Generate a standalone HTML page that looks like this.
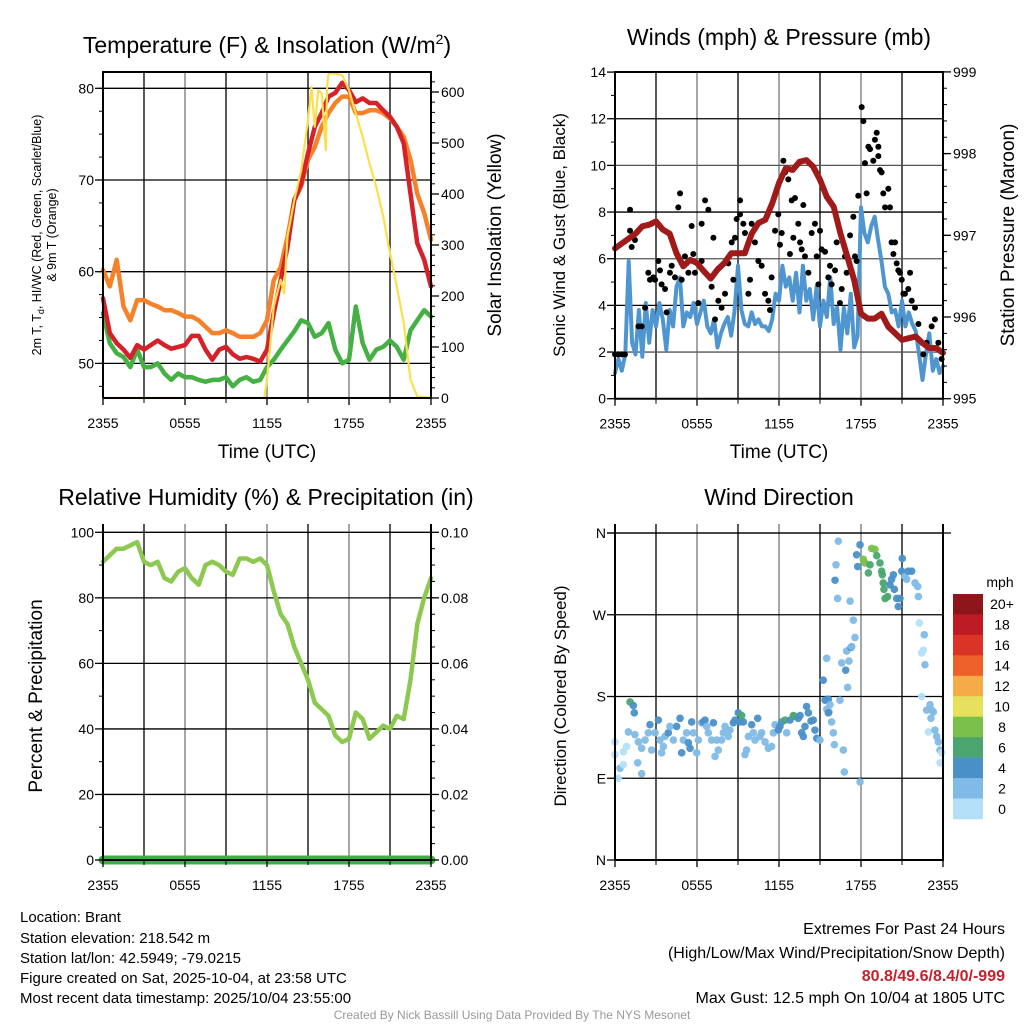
<!DOCTYPE html>
<html><head><meta charset="utf-8"><style>
body{margin:0;background:#fff}
svg{display:block;font-family:"Liberation Sans",sans-serif}
</style></head><body>
<svg id="s" width="1024" height="1024" viewBox="0 0 1024 1024" xmlns="http://www.w3.org/2000/svg">
<g id="grid"></g><g id="marks"></g><g id="axes"></g>
<text x="267" y="53" font-size="23" text-anchor="middle">Temperature (F) &amp; Insolation (W/m<tspan font-size="14" dy="-9">2</tspan><tspan dy="9">)</tspan></text>
<text x="779" y="45" font-size="23" text-anchor="middle">Winds (mph) &amp; Pressure (mb)</text>
<text x="266" y="505" font-size="23" text-anchor="middle">Relative Humidity (%) &amp; Precipitation (in)</text>
<text x="779" y="505" font-size="23" text-anchor="middle">Wind Direction</text>
<text x="267" y="458" font-size="19" text-anchor="middle">Time (UTC)</text>
<text x="779" y="458" font-size="19" text-anchor="middle">Time (UTC)</text>
<g transform="translate(41,235) rotate(-90)"><text x="0" y="0" font-size="12.5" text-anchor="middle">2m T, T<tspan font-size="9" dy="3">d</tspan><tspan dy="-3">, HI/WC (Red, Green, Scarlet/Blue)</tspan></text><text x="0" y="15" font-size="12.5" text-anchor="middle">&amp; 9m T (Orange)</text></g>
<text transform="translate(501,235) rotate(-90)" font-size="19" text-anchor="middle">Solar Insolation (Yellow)</text>
<text transform="translate(565,235) rotate(-90)" font-size="17" text-anchor="middle">Sonic Wind &amp; Gust (Blue, Black)</text>
<text transform="translate(1014,235) rotate(-90)" font-size="19" text-anchor="middle">Station Pressure (Maroon)</text>
<text transform="translate(42,696) rotate(-90)" font-size="19" text-anchor="middle">Percent &amp; Precipitation</text>
<text transform="translate(566,696) rotate(-90)" font-size="17" text-anchor="middle">Direction (Colored By Speed)</text>
<g font-size="15">
<text x="20" y="922">Location: Brant</text>
<text x="20" y="943">Station elevation: 218.542 m</text>
<text x="20" y="963">Station lat/lon: 42.5949; -79.0215</text>
<text x="20" y="983">Figure created on Sat, 2025-10-04, at 23:58 UTC</text>
<text x="20" y="1003">Most recent data timestamp: 2025/10/04 23:55:00</text>
</g>
<g font-size="16" text-anchor="end">
<text x="1005" y="934">Extremes For Past 24 Hours</text>
<text x="1005" y="958">(High/Low/Max Wind/Precipitation/Snow Depth)</text>
<text x="1005" y="981" fill="#c8202a" font-weight="bold">80.8/49.6/8.4/0/-999</text>
<text x="1005" y="1003">Max Gust: 12.5 mph On 10/04 at 1805 UTC</text>
</g>
<text x="512" y="1019" font-size="12" fill="#999" text-anchor="middle">Created By Nick Bassill Using Data Provided By The NYS Mesonet</text>
<text x="1000" y="587" font-size="14" text-anchor="middle">mph</text>
</svg>
<script>
const halfHours=[0,0.5,1,1.5,2,2.5,3,3.5,4,4.5,5,5.5,6,6.5,7,7.5,8,8.5,9,9.5,10,10.5,11,11.5,12,12.5,13,13.5,14,14.5,15,15.5,16,16.5,17,17.5,18,18.5,19,19.5,20,20.5,21,21.5,22,22.5,23,23.5,24];
const tempRed=[57.1,53.3,52.2,51.5,50.6,52,51.5,52,52.5,52,51.6,51.8,52,53,53,51.5,50.4,51.5,51.8,51,50.5,50.7,50.5,50.2,51.5,55.5,59.1,62.7,67.8,69.6,72.9,75.8,77.3,79.1,79.5,80.6,79.8,78.5,78.9,78.4,78.4,77.6,76.9,75.8,74,68.5,63.1,61.3,58.4];
const temp9m=[60.2,58.4,61.3,56.2,54.7,56.9,56.9,56.5,56.2,55.8,55.8,55.5,55.1,55.1,54.7,54,53.3,53.3,53.6,53.3,52.9,52.9,52.9,53.3,54.7,59.1,60.5,63.8,67.8,69.3,72.2,73.6,75.8,77.3,78.4,79.1,79.1,77.3,77.3,77.6,77.6,77.3,76.7,75.8,74.7,72.2,68.5,66.4,63.5];
const dewGreen=[55.5,52.2,51.1,50.7,49.6,51.5,49.6,49.6,50,48.9,48.2,48.9,48.5,48.5,48.2,48,48.2,48.2,48.5,47.5,48.2,48.5,48,48.2,49.6,50.4,51.5,52.5,53.5,54.7,54.4,52.9,53.3,54.4,51.5,50,50.4,56.2,52.2,50.4,51.5,51.8,52.5,51.8,50.4,53.6,54.7,55.8,55.1];
const solarHours=[0,11.8,12,12.5,13,13.25,13.5,14,14.5,15,15.25,15.5,15.75,16,16.3,16.4,16.5,17,17.5,18,18.5,19,19.5,20,20.5,21,21.5,22,22.5,23,24];
const solarValues=[0,0,36,180,232,205,317,388,447,545,610,532,604,597,486,610,636,636,633,604,558,512,460,414,356,284,219,147,36,3,0];
const pressure=[996.84,996.90,996.96,997.02,997.11,997.13,997.17,997.07,997.02,996.78,996.62,996.70,996.66,996.56,996.47,996.58,996.66,996.78,996.78,996.78,997.02,997.15,997.19,997.39,997.64,997.82,997.80,997.90,997.92,997.84,997.68,997.47,997.35,997.02,996.74,996.45,996.04,995.98,995.98,996.04,995.88,995.80,995.72,995.74,995.76,995.68,995.62,995.62,995.56];
const sonicWind=[1.1,1.7,1.2,1.9,5.9,2.4,1.9,3.8,1.8,4.1,2.4,3.8,3.1,4.1,3.4,2.1,3.8,3.1,4.8,5.2,3.1,3.7,3.5,4.1,3.2,3.7,4.2,3.1,2.8,3.4,2.2,2.8,3.2,3.5,2.7,3.8,5.7,3.8,3.2,3.1,3.7,3.2,3.4,3.1,3.1,2.9,3.4,4.5,4.2,5.7,4.8,5.2,4.2,5.4,3.7,5.7,4.2,4.7,3.4,4.8,3.1,4.2,3.5,5.2,3.2,3.9,2.1,3.9,2.8,4.5,2.2,2.7,8.2,7.1,6.7,7.4,7.8,6.8,5.9,4.8,4.5,3.7,3.8,3.1,4.2,3.1,3.7,3.2,2.9,1.9,0.8,1.9,2.8,1.2,1.7,1.1,1.4];
const gustHours=[0,0.24,0.49,0.73,1.10,1.10,1.22,1.46,1.71,1.95,2.20,2.44,2.56,2.80,2.93,3.17,3.29,3.41,3.66,3.78,4.02,4.15,4.39,4.63,4.76,4.88,5.12,5.37,5.61,5.73,5.85,6.10,6.34,6.34,6.59,6.83,7.07,7.20,7.32,7.56,7.80,8.05,8.29,8.54,8.66,8.78,8.90,9.15,9.15,9.39,9.51,9.76,9.88,10.00,10.24,10.49,10.73,10.98,11.22,11.34,11.46,11.71,11.95,12.07,12.20,12.32,12.44,12.68,12.80,12.93,13.05,13.17,13.41,13.54,13.66,13.78,13.90,14.15,14.39,14.63,14.76,14.88,15.00,15.12,15.37,15.61,15.73,15.85,16.10,16.22,16.46,16.59,16.83,16.95,17.20,17.44,17.56,17.68,17.80,18.05,18.17,18.29,18.41,18.54,18.66,18.90,19.02,19.15,19.27,19.27,19.39,19.51,19.63,19.76,20.00,20.12,20.24,20.37,20.49,20.61,20.73,20.85,20.98,21.10,21.22,21.46,21.59,21.71,21.95,22.20,22.56,22.80,23.17,23.41,23.66,23.90];
const gustSpeeds=[1.9,1.9,1.9,1.9,8.1,7.2,6.5,6.8,3.1,3.1,3.9,5.4,5.1,5.2,5.1,5.9,5.5,4.9,4.7,3.7,5.4,5.7,5.2,8.2,8.8,5.1,6.1,5.4,7.4,6.2,5.4,4.1,5.9,7.5,8.5,8.1,4.8,6.9,3.4,4.2,3.9,4.5,5.8,6.7,5.1,6.9,7.7,8.5,7.9,7.5,7.1,4.5,5.1,7.5,6.7,5.9,5.7,4.5,4.2,3.8,5.2,7.2,7.9,6.6,7.1,10.2,9.7,9.4,6.2,8.5,6.9,8.6,7.5,6.7,6.4,8.3,6.1,5.4,7.1,7.5,6.1,4.9,7.2,6.4,6.3,5.2,5.7,4.9,5.5,6.7,4.1,4.7,6.1,5.4,7.0,7.8,6.1,5.9,8.7,12.5,11.9,10.1,8.8,10.8,10.7,10.2,11.1,11.4,10.8,10.4,9.8,9.7,8.8,8.2,9.0,8.2,6.7,6.2,6.7,5.8,5.5,5.4,5.1,4.5,4.5,4.7,5.4,4.2,3.9,3.2,1.9,2.4,3.1,3.4,2.4,1.7];
const rhValues=[91,93,95,95,96,97,91,90,91,86,85,88,89,86,84,90,91,90,88,87,92,92,91,92,90,82,75,72,65,60,55,48,46,44,38,36,37,45,43,37,39,41,40,44,43,55,72,80,86];
const precipValues=[0,0,0,0,0,0,0,0,0,0,0,0,0,0,0,0,0,0,0,0,0,0,0,0,0,0,0,0,0,0,0,0,0,0,0,0,0,0,0,0,0,0,0,0,0,0,0,0,0];
const dirHours=[0,0,0.24,0.37,0.61,0.85,0.61,0.98,1.10,1.34,1.41,1.46,1.66,1.71,1.95,1.95,2.20,2.44,2.56,2.68,2.93,3.17,3.29,3.41,3.54,3.66,3.90,4.02,4.27,4.51,4.76,4.88,5.00,5.24,5.37,5.49,5.61,5.73,5.98,6.10,6.34,6.46,6.59,6.71,6.83,7.07,7.20,7.32,7.44,7.56,7.80,7.93,8.05,8.29,8.41,8.66,8.78,9.02,9.15,9.27,9.39,9.51,9.63,9.76,10.0,10.12,10.24,10.44,10.61,10.73,10.98,11.22,11.46,11.59,11.71,11.95,12.07,12.20,12.44,12.56,12.80,13.05,13.17,13.41,13.54,13.66,13.78,13.90,14.02,14.15,14.34,14.51,14.63,14.76,15.0,15.24,15.37,15.49,15.61,15.66,15.73,15.85,15.98,16.05,15.49,15.61,16.46,16.59,16.71,16.78,16.88,16.95,17.02,17.12,17.27,17.32,17.44,17.56,17.93,16.10,16.17,16.29,16.34,17.20,17.68,17.76,17.93,18.17,18.29,18.54,18.66,18.78,19.02,19.15,19.39,19.51,19.56,19.63,19.68,19.76,19.95,20.12,20.24,20.37,20.44,20.61,20.73,20.85,20.98,21.02,21.22,21.34,21.46,21.71,21.95,22.15,22.20,22.27,22.44,22.63,22.44,22.56,22.68,22.80,23.05,23.17,23.29,23.12,22.93,23.41,23.54,23.66,23.78,23.90,23.78];
const dirDegrees=[130,116,90,101,105,125,119,141,174,170,162,138,107,130,95,123,132,140,149,121,140,154,132,118,125,136,140,147,132,147,156,118,132,140,129,123,152,140,118,132,151,152,154,147,140,132,151,114,132,121,132,140,147,136,143,151,154,162,152,159,152,116,121,136,149,140,132,156,136,140,130,123,125,140,149,143,147,152,154,140,154,159,158,156,159,140,136,147,169,162,153,154,143,134,132,198,176,166,177,163,171,152,140,127,222,162,176,217,121,97,209,230,190,219,234,235,264,245,86,308,325,288,351,285,336,323,347,331,327,316,325,343,342,335,327,318,314,305,298,288,290,303,309,314,298,288,279,288,318,332,312,309,318,318,305,301,290,261,180,248,228,231,215,165,171,165,163,156,141,143,136,130,121,118,107];
const dirSpeeds=[1,1,1,2,1,1,1,2,6,4,4,2,2,2,2,2,2,2,4,2,2,4,2,2,2,2,4,2,2,4,4,4,2,2,4,4,4,2,2,2,2,4,4,2,2,2,4,2,2,2,2,2,2,2,2,4,4,4,4,6,4,2,2,2,4,2,2,4,2,2,2,2,2,2,2,4,4,4,6,2,4,6,6,4,4,4,4,4,4,4,4,4,4,4,2,4,4,2,4,2,2,2,2,2,2,4,2,2,2,2,4,2,2,2,4,2,2,2,2,4,2,2,2,2,4,4,4,8,8,6,6,8,8,6,6,6,6,6,6,6,6,4,4,4,4,4,4,4,4,4,2,2,4,4,2,2,2,1,1,2,1,1,2,2,2,2,2,2,1,2,2,2,2,1,1];
const timeTickLabels=["2355","0555","1155","1755","2355"];
const tempTicks=[50,60,70,80];
const solarTicks=[0,100,200,300,400,500,600];
const windTicks=[0,2,4,6,8,10,12,14];
const pressTicks=[995,996,997,998,999];
const rhTicks=[0,20,40,60,80,100];
const precipTicks=["0.00","0.02","0.04","0.06","0.08","0.10"];
const dirTickLabels=["N","E","S","W","N"];
const speedBins=["20+","18","16","14","12","10","8","6","4","2","0"];
const binColors=["#8e1519","#bd1c24","#dc3327","#ee6029","#f6aa48","#e6e05a","#7bc04a","#4aa66e","#4a90c8","#7fbbe6","#b3e0f7"];

const NS="http://www.w3.org/2000/svg";
const G=document.getElementById('grid'),M=document.getElementById('marks'),A=document.getElementById('axes');
function mk(p,tag,at){const e=document.createElementNS(NS,tag);for(const k in at)e.setAttribute(k,at[k]);p.appendChild(e);return e;}
// panels
const P1={x0:103,x1:431,top:72,bot:398},P2={x0:615,x1:943,top:72,bot:398.7},P3={x0:103,x1:431,top:524,bot:860},P4={x0:615,x1:943,top:524,bot:860};
const X=(P,h)=>P.x0+h*(P.x1-P.x0)/24;
const yT=v=>88.3+(80-v)*9.17, yS=v=>398-v*0.51;
const yW=v=>398.7-v*23.33, yP=v=>398.7-(v-995)*81.7;
const yR=v=>860-v*3.277, yPr=v=>860-v*3277;
const yD=v=>860-v*0.9083;
function frame(P,name,top){
  for(let i=1;i<8;i++){const x=X(P,i*3);const l=mk(G,'line',{x1:x,x2:x,y1:P.top,y2:P.bot,stroke:i%2?'#000':'#777','stroke-width':1.3});
  
  }
  const r=mk(A,'path',{d:`M${P.x0},${P.bot}V${P.top}${top?'H'+P.x1:'M'+P.x1+','+P.top}V${P.bot}H${P.x0}`,fill:'none',stroke:'#000','stroke-width':2});
  
  
  timeTickLabels.forEach((t,i)=>{const x=X(P,i*6);
    mk(A,'line',{x1:x,x2:x,y1:P.bot,y2:P.bot+7,stroke:'#000','stroke-width':1.3});
    const tx=mk(A,'text',{x:x,y:P.bot+30,'font-size':14,'text-anchor':'middle'});tx.textContent=t;
    
    });
  for(let i=1;i<8;i+=2){const x=X(P,i*3);mk(A,'line',{x1:x,x2:x,y1:P.bot,y2:P.bot+5,stroke:'#000','stroke-width':1});}
}
function hgrid(P,y,name,col){const l=mk(G,'line',{x1:P.x0,x2:P.x1,y1:y,y2:y,stroke:col||'#000','stroke-width':1.3});
  
  }
function ylab(P,y,t,side,name){const x=side==='l'?P.x0-9:P.x1+10;
  mk(A,'line',{x1:side==='l'?P.x0-8:P.x1,x2:side==='l'?P.x0:P.x1+8,y1:y,y2:y,stroke:'#000','stroke-width':1.3});
  const tx=mk(A,'text',{x:x,y:y+5,'font-size':14,'text-anchor':side==='l'?'end':'start'});tx.textContent=t;
  
  }
function minor(P,ys,side){ys.forEach(y=>{if(y<P.top-0.5||y>P.bot+0.5)return;mk(A,'line',{x1:side==='l'?P.x0-4:P.x1,x2:side==='l'?P.x0:P.x1+4,y1:y,y2:y,stroke:'#000','stroke-width':1});});}
function line(P,xs,vs,yf,col,w,name){const d=vs.map((v,i)=>(i?'L':'M')+X(P,xs[i]).toFixed(1)+','+yf(v).toFixed(1)).join('');
  const p=mk(M,'path',{d:d,fill:'none',stroke:col,'stroke-width':w,'stroke-linejoin':'round','stroke-linecap':'round'});
  
  }

// Panel 1
frame(P1,'temp',true);
tempTicks.forEach(v=>{hgrid(P1,yT(v),'temp');ylab(P1,yT(v),String(v),'l','temp-y-tick-label');});
const m1=[];for(let v=47.5;v<82;v+=2.5)m1.push(yT(v));minor(P1,m1,'l');
solarTicks.forEach(v=>ylab(P1,yS(v),String(v),'r','solar-y-tick-label'));
const m2=[];for(let v=20;v<640;v+=20)m2.push(yS(v));minor(P1,m2,'r');
line(P1,halfHours,dewGreen,yT,'#45b044',4.5,'dewpoint-line');
line(P1,halfHours,temp9m,yT,'#f5822a',4.5,'temp-9m-line');
line(P1,halfHours,tempRed,yT,'#d52129',4.5,'temp-2m-line');
line(P1,solarHours,solarValues,yS,'#fbdf4d',2.2,'solar-insolation-line');

// Panel 2
frame(P2,'wind',true);
windTicks.forEach(v=>{hgrid(P2,yW(v),'wind',v%4?'#555':'#000');ylab(P2,yW(v),String(v),'l','wind-y-tick-label');});
const m3=[];for(let v=1;v<14;v+=2)m3.push(yW(v));minor(P2,m3,'l');
pressTicks.forEach(v=>ylab(P2,yP(v),String(v),'r','pressure-y-tick-label'));
const m4=[];for(let v=995.2;v<999;v+=0.2)m4.push(yP(v));minor(P2,m4,'r');
const qh=sonicWind.map((v,i)=>i*0.25);
line(P2,qh,sonicWind,yW,'#4f96d0',4,'sonic-wind-line');
gustHours.forEach((h,i)=>{const c=mk(M,'circle',{cx:X(P2,h),cy:yW(gustSpeeds[i]),r:3,fill:'#000'});
  
  });
line(P2,halfHours,pressure,yP,'#a01a1a',6,'pressure-line');

// Panel 3
frame(P3,'humidity',false);
rhTicks.forEach((v,i)=>{if(v>0)hgrid(P3,yR(v),'humidity');ylab(P3,yR(v),String(v),'l','humidity-y-tick-label');ylab(P3,yR(v),precipTicks[i],'r','precip-y-tick-label');});
const m5=[];for(let v=10;v<100;v+=20)m5.push(yR(v));minor(P3,m5,'l');
const m6=[];for(let v=5;v<100;v+=5)m6.push(yR(v));minor(P3,m6,'r');
line(P3,halfHours,rhValues,yR,'#8dc850',4.5,'relative-humidity-line');
line(P3,halfHours,precipValues,yPr,'#3fae49',9,'precipitation-line');
mk(A,'line',{x1:P3.x0,x2:P3.x1,y1:860,y2:860,stroke:'#000','stroke-width':1.5});

// Panel 4
frame(P4,'direction',false);
dirTickLabels.forEach((t,i)=>{const y=yD(i*90);if(i>0)hgrid(P4,y,'direction');ylab(P4,y,t,'l','direction-y-tick-label');});
mk(A,'line',{x1:P4.x0-8,x2:P4.x1+8,y1:yD(360),y2:yD(360),stroke:'#000','stroke-width':1.3});
dirHours.forEach((h,i)=>{const b=10-Math.min(10,Math.floor(dirSpeeds[i]/2));
  const c=mk(M,'circle',{cx:X(P4,h),cy:yD(dirDegrees[i]),r:3.8,fill:binColors[b],'fill-opacity':0.95});
  
  });
// colorbar
const cb0=594,cbh=225/speedBins.length;
speedBins.forEach((s,i)=>{const r=mk(A,'rect',{x:953,y:cb0+i*cbh,width:30,height:cbh+0.3,fill:binColors[i]});
  
  
  const t=mk(A,'text',{x:1002,y:cb0+i*cbh+cbh/2+5,'font-size':14,'text-anchor':'middle'});t.textContent=s;
  
  });
</script>
</body></html>
